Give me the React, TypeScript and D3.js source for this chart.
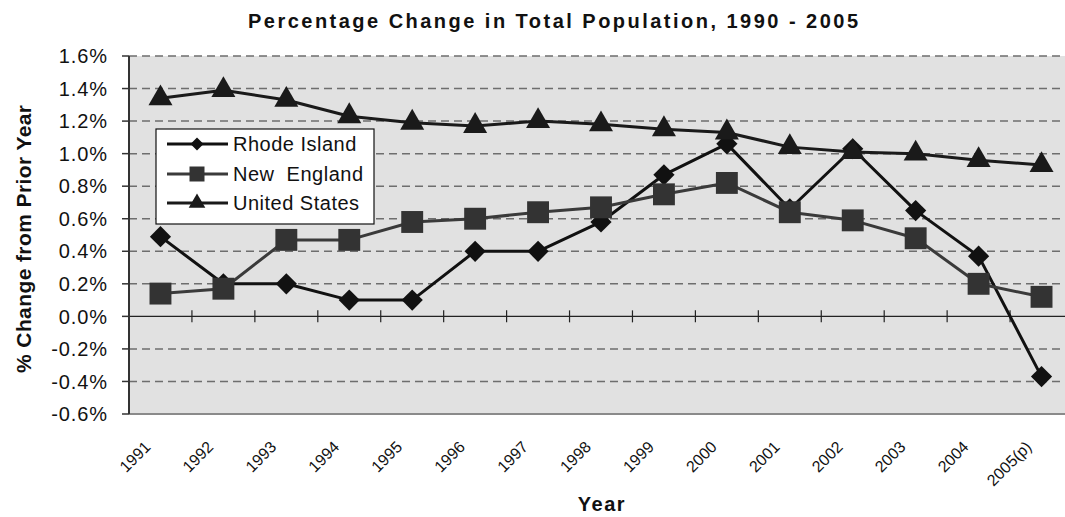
import { scaleBand, scaleLinear, line, symbol, symbolSquare, symbolTriangle, range } from 'd3';

const WIDTH = 1065;
const HEIGHT = 517;
const FONT = '"Liberation Sans", Arial, sans-serif';

const years = ['1991', '1992', '1993', '1994', '1995', '1996', '1997', '1998', '1999', '2000', '2001', '2002', '2003', '2004', '2005(p)'];
const rhodeIsland = [0.49, 0.2, 0.2, 0.1, 0.1, 0.4, 0.4, 0.58, 0.87, 1.06, 0.66, 1.03, 0.65, 0.37, -0.37];
const newEngland = [0.14, 0.17, 0.47, 0.47, 0.58, 0.6, 0.64, 0.67, 0.75, 0.82, 0.64, 0.59, 0.48, 0.2, 0.12];
const unitedStates = [1.34, 1.39, 1.33, 1.23, 1.19, 1.17, 1.2, 1.18, 1.15, 1.13, 1.04, 1.01, 1.0, 0.96, 0.93];
const yTicks = [-0.6, -0.4, -0.2, 0, 0.2, 0.4, 0.6, 0.8, 1.0, 1.2, 1.4, 1.6];

const seriesNames = ['Rhode Island', 'New  England', 'United States'];
const seriesValues = [rhodeIsland, newEngland, unitedStates];

const margin = { left: 129, top: 56, right: 1073, bottom: 414 };

const styles = [
  { color: '#111111', fill: '#111111', shape: 'diamond', size: 225, legendSize: 85 },
  { color: '#3a3a3a', fill: '#333333', shape: 'square', size: 480, legendSize: 225 },
  { color: '#1a1a1a', fill: '#1a1a1a', shape: 'triangle', size: 250, legendSize: 120 },
];

function markerPath(shape: string, size: number) {
  if (shape === 'triangle') return symbol(symbolTriangle, size)() as string;
  return symbol(symbolSquare, size)() as string;
}

export default function App() {
  const x = scaleBand<string>().domain(years).range([margin.left, margin.right]);
  const y = scaleLinear().domain([-0.6, 1.6]).range([margin.bottom, margin.top]);
  const cx = (d: string) => (x(d) as number) + x.bandwidth() / 2;
  const pathGen = line<number>()
    .x((_, i) => cx(years[i]))
    .y(d => y(d));

  return (
    <div style={{ position: 'absolute', left: 0, top: 0 }}>
      <svg width={WIDTH} height={HEIGHT} style={{ display: 'block', fontFamily: FONT }}>
        <rect x={0} y={0} width={WIDTH} height={HEIGHT} fill="#ffffff" />
        <rect
          x={margin.left}
          y={margin.top}
          width={margin.right - margin.left}
          height={margin.bottom - margin.top}
          fill="#e1e1e1"
        />
        {/* grid */}
        {yTicks.filter(t => t !== 0).map(t => (
          <line
            key={t}
            x1={margin.left}
            x2={margin.right}
            y1={y(t)}
            y2={y(t)}
            stroke="#6e6e6e"
            strokeWidth={1.5}
            strokeDasharray="8,5"
          />
        ))}
        <line x1={margin.left} x2={margin.right} y1={margin.bottom} y2={margin.bottom} stroke="#8a8a8a" strokeWidth={2} />
        {/* zero line with category ticks */}
        <line x1={margin.left} x2={margin.right} y1={y(0)} y2={y(0)} stroke="#222" strokeWidth={1.2} />
        {range(1, years.length).map(i => (
          <line
            key={i}
            x1={(x(years[i]) as number)}
            x2={(x(years[i]) as number)}
            y1={y(0) - 6}
            y2={y(0) + 6}
            stroke="#222"
            strokeWidth={1.2}
          />
        ))}
        {/* y axis */}
        <line x1={margin.left} x2={margin.left} y1={margin.top} y2={margin.bottom} stroke="#333" strokeWidth={2} />
        {yTicks.map(t => (
          <g key={t}>
            <line x1={margin.left - 7} x2={margin.left} y1={y(t)} y2={y(t)} stroke="#333" strokeWidth={1.5} />
            <text
              x={108}
              y={y(t)}
              dy="0.36em"
              textAnchor="end"
              fontSize={20}
              fill="#111"
              letterSpacing={0.9}
            >
              {t.toFixed(1) + '%'}
            </text>
          </g>
        ))}
        {/* series */}
        {seriesValues.map((vals, si) => (
          <g key={si}>
            <path d={pathGen(vals) as string} fill="none" stroke={styles[si].color} strokeWidth={3} strokeLinejoin="round" />
            {vals.map((v, i) => (
              <path
                key={i}
                d={markerPath(styles[si].shape, styles[si].size)}
                transform={`translate(${cx(years[i])},${y(v)})${styles[si].shape === 'diamond' ? ' rotate(45)' : ''}`}
                fill={styles[si].fill}
              />
            ))}
          </g>
        ))}
        {/* legend */}
        <rect x={156} y={129} width={218} height={95} fill="#ffffff" stroke="#111" strokeWidth={1.2} />
        {seriesNames.map((name, si) => {
          const ly = [144, 174, 203][si];
          return (
            <g key={name}>
              <line x1={167} x2={228} y1={ly} y2={ly} stroke={styles[si].color} strokeWidth={3} />
              <path
                d={markerPath(styles[si].shape, styles[si].legendSize)}
                transform={`translate(197,${ly})${styles[si].shape === 'diamond' ? ' rotate(45)' : ''}`}
                fill={styles[si].fill}
              />
              <text x={233} y={ly} dy="0.36em" fontSize={20} fill="#111" style={{ whiteSpace: 'pre' }} letterSpacing={0.5}>
                {name}
              </text>
            </g>
          );
        })}
        {/* x labels */}
        {years.map(d => (
          <text
            key={d}
            transform={`translate(${cx(d) - 9},${448}) rotate(-45)`}
            textAnchor="end"
            fontSize={16}
            fill="#111"
          >
            {d}
          </text>
        ))}
        {/* titles */}
        <text x={553} y={28} textAnchor="middle" fontSize={20} fontWeight="bold" fill="#111" textLength={610} lengthAdjust="spacing">
          Percentage Change in Total Population, 1990 - 2005
        </text>
        <text x={602} y={511} textAnchor="middle" fontSize={20} fontWeight="bold" fill="#111" letterSpacing={1.5}>
          Year
        </text>
        <text
          transform="translate(31,239) rotate(-90)"
          textAnchor="middle"
          fontSize={21}
          fontWeight="bold"
          fill="#111"
          textLength={268}
          lengthAdjust="spacing"
        >
          % Change from Prior Year
        </text>
      </svg>
    </div>
  );
}
